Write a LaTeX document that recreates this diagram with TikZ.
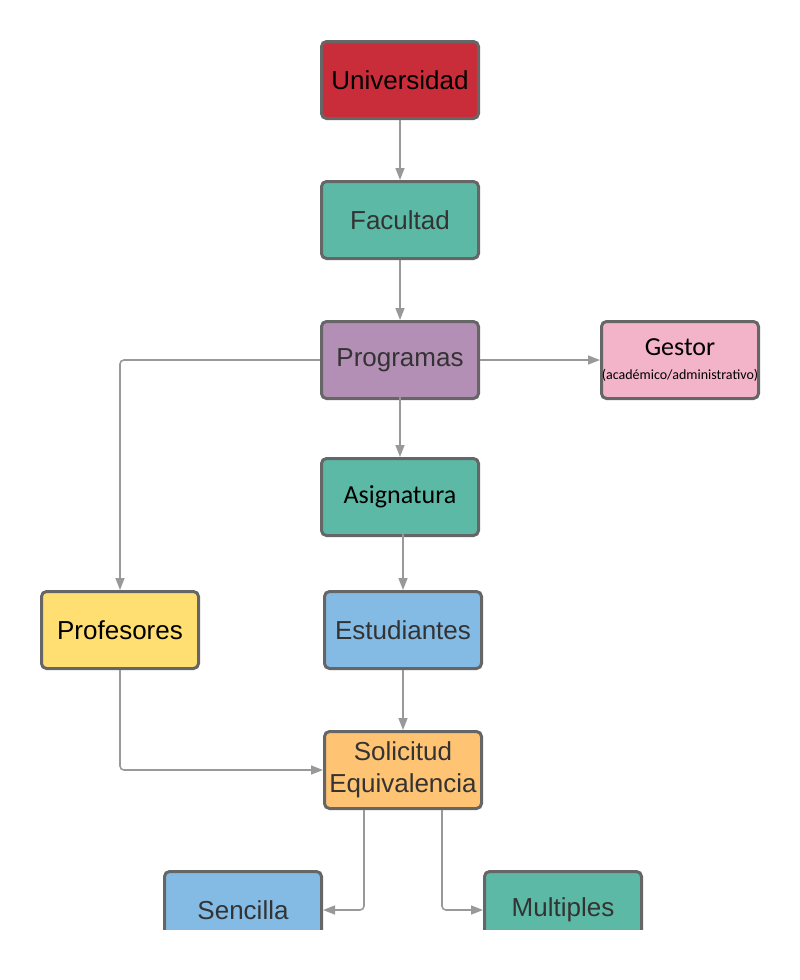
\documentclass[tikz,border=0pt]{standalone}
\usepackage{fontspec}
\setmainfont{Liberation Sans}
\newfontfamily\calfont{Carlito}
\usetikzlibrary{arrows.meta}
\definecolor{boxred}{HTML}{C92D39}
\definecolor{boxteal}{HTML}{5CB9A5}
\definecolor{boxpurple}{HTML}{B38FB5}
\definecolor{boxpink}{HTML}{F3B4C9}
\definecolor{boxyellow}{HTML}{FFDF71}
\definecolor{boxblue}{HTML}{83BBE5}
\definecolor{boxorange}{HTML}{FFC374}
\definecolor{boxline}{HTML}{666666}
\definecolor{linkgray}{HTML}{999999}
\definecolor{textgray}{HTML}{333333}
\begin{document}
\begin{tikzpicture}[x=1pt,y=-1pt,
    box/.style={draw=boxline,line width=3pt,rounded corners=5pt,
      minimum width=157pt,minimum height=77pt,inner sep=0pt,align=center,
      text=textgray,font=\fontsize{26}{32}\selectfont},
    link/.style={draw=linkgray,line width=1.6pt,rounded corners=4pt,
      -{Triangle[length=12pt,width=9pt]}}]
  \useasboundingbox (0,0) rectangle (800,980);
  \begin{scope}
    \clip (0,0) rectangle (800,929);
    \draw
      (400,80) node[box,fill=boxred,text=black] (univ){Universidad}
      (400,220) node[box,fill=boxteal] (fac){Facultad}
      (400,360) node[box,fill=boxpurple] (prog){Programas}
      (680,360) node[box,fill=boxpink,text=black] (gest){{\calfont Gestor}\\[-8pt]{\calfont\fontsize{14}{16}\selectfont(académico/administrativo)}}
      (400,497) node[box,fill=boxteal,text=black,font=\calfont\fontsize{26}{32}\selectfont] (asig){Asignatura}
      (120,630) node[box,fill=boxyellow,text=black] (prof){Profesores}
      (403,630) node[box,fill=boxblue] (est){Estudiantes}
      (403,770) node[box,fill=boxorange] (sol){Solicitud\\Equivalencia}
      (243,910) node[box,fill=boxblue] (sen){Sencilla}
      (563,910) node[box,fill=boxteal] (mult){Multiples};
    \begin{scope}[link]
      \draw (univ) to (fac);
      \draw (fac) to (prog);
      \draw ([yshift=4pt]prog.south) to (asig);
      \draw (prog) to (gest);
      \draw (prog.west) -| (prof.north);
      \draw ([xshift=3pt,yshift=4pt]asig.south) to (est.north);
      \draw (est) to (sol);
      \draw (prof.south) |- (sol.west);
      \draw ([xshift=-39pt]sol.south) |- (sen.east);
      \draw ([xshift=39pt]sol.south) |- (mult.west);
    \end{scope}
  \end{scope}
\end{tikzpicture}
\end{document}
